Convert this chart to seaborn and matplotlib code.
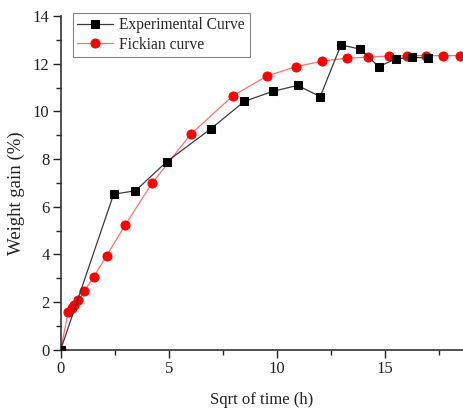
import matplotlib
matplotlib.use("Agg")
import matplotlib.pyplot as plt
from matplotlib.ticker import MultipleLocator
import pandas as pd
import seaborn as sns

# Experimental weight gain vs square root of immersion time
exp_sqrt_t = [0, 2.45, 3.46, 4.90, 6.93, 8.49, 9.80, 10.95, 12.00, 12.96,
              13.86, 14.70, 15.49, 16.25, 16.97]
exp_gain = [0, 6.53, 6.67, 7.89, 9.26, 10.42, 10.84, 11.09, 10.62, 12.79,
            12.61, 11.88, 12.20, 12.27, 12.24]

# Fickian diffusion model curve
fick_sqrt_t = [0, 0.35, 0.51, 0.63, 0.82, 1.10, 1.53, 2.13, 2.98, 4.22, 6.02,
               7.97, 9.55, 10.89, 12.09, 13.22, 14.21, 15.18, 16.03, 16.88,
               17.68, 18.47]
fick_gain = [0, 1.59, 1.74, 1.88, 2.09, 2.46, 3.06, 3.95, 5.23, 6.98, 9.05,
             10.66, 11.49, 11.88, 12.11, 12.23, 12.28, 12.32, 12.34, 12.34,
             12.34, 12.34]

x_ticks = [0, 5, 10, 15]
y_ticks = [0, 2, 4, 6, 8, 10, 12, 14]

sns.set_style("ticks")
plt.rcParams["font.family"] = ["Liberation Serif", "DejaVu Serif"]
plt.rcParams["axes.edgecolor"] = "#333333"

fig = plt.figure(figsize=(4.63, 4.12), dpi=100)
ax = fig.add_axes([0.131, 0.151, 0.869, 0.810])

df_exp = pd.DataFrame({"x": exp_sqrt_t, "y": exp_gain})
df_fick = pd.DataFrame({"x": fick_sqrt_t, "y": fick_gain})

sns.lineplot(data=df_exp, x="x", y="y", ax=ax, sort=False, estimator=None,
             color="#3a3a3a", linewidth=0.9, marker="s", markersize=6,
             markerfacecolor="black", markeredgecolor="black",
             label="Experimental Curve", zorder=3)
sns.lineplot(data=df_fick, x="x", y="y", ax=ax, sort=False, estimator=None,
             color="#ff7070", linewidth=0.9, marker="o", markersize=6.5,
             markerfacecolor="#ff0000", markeredgecolor="#ff0000",
             label="Fickian curve", zorder=2)

ax.set_xlim(0, 18.6)
ax.set_ylim(0, 14)
ax.set_xticks(x_ticks)
ax.set_yticks(y_ticks)
ax.xaxis.set_minor_locator(MultipleLocator(2.5))
ax.yaxis.set_minor_locator(MultipleLocator(1))
ax.tick_params(which="major", direction="out", length=6, width=1, pad=2,
               labelsize=12, colors="#222222")
ax.tick_params(which="minor", direction="out", length=3.5, width=1,
               colors="#222222")
for side in ("top", "right"):
    ax.spines[side].set_visible(False)
for side in ("left", "bottom"):
    ax.spines[side].set_linewidth(1.2)

ax.set_xlabel("Sqrt of time (h)", fontsize=12, labelpad=11, color="#222222")
ax.set_ylabel("Weight gain (%)", fontsize=13.5, color="#222222")
ax.yaxis.set_label_coords(-0.088, 0.47)

leg = ax.legend(loc="upper left", bbox_to_anchor=(0.03, 1.01), fontsize=11.2,
                frameon=True, fancybox=False, edgecolor="#666666",
                handlelength=2.3, borderpad=0.3, labelspacing=0.2,
                handletextpad=0.4, borderaxespad=0)
leg.get_frame().set_linewidth(0.8)

fig.savefig("out.png", dpi=100)
